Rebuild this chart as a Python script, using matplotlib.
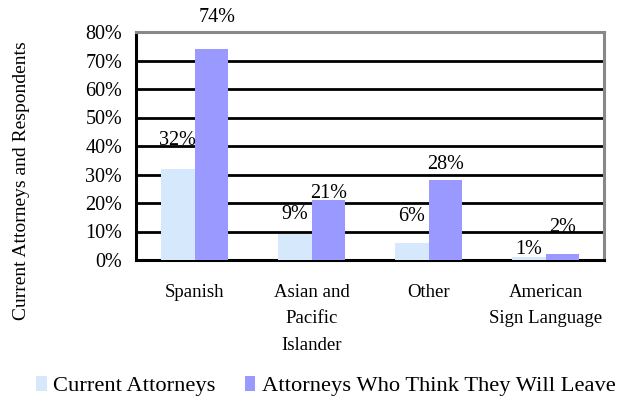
import matplotlib
matplotlib.use("Agg")
import matplotlib.pyplot as plt
import numpy as np

categories = ["Spanish", "Asian and\nPacific\nIslander", "Other", "American\nSign Language"]
current = [32, 9, 6, 1]
leave = [74, 21, 28, 2]
series_names = ["Current Attorneys", "Attorneys Who Think They Will Leave"]
yticks = [0, 10, 20, 30, 40, 50, 60, 70, 80]

plt.rcParams['font.family'] = ['Liberation Serif', 'DejaVu Serif']

fig = plt.figure(figsize=(6.2, 4.01), dpi=100)
ax = fig.add_axes([136/620, 1 - 260/401, 468/620, 228/401])

x = np.arange(len(categories))
w = 0.29
c1 = '#d6e8fc'
c2 = '#9999ff'
b1 = ax.bar(x - w/2, current, w, color=c1, zorder=3, label=series_names[0])
b2 = ax.bar(x + w/2, leave, w, color=c2, zorder=3, label=series_names[1])

ax.set_xlim(-0.5, len(categories) - 0.5)
ax.set_ylim(0, 80)
ax.set_yticks(yticks)
ax.set_yticklabels([f"{t}%" for t in yticks], fontsize=14.5)
ax.set_xticks(x)
ax.set_xticklabels(categories, fontsize=13.5, linespacing=1.75, va='top')
ax.tick_params(axis='both', length=0)
ax.tick_params(axis='x', pad=17)
ax.tick_params(axis='y', pad=10)

ax.yaxis.grid(True, color='black', linewidth=2, zorder=1)
ax.set_axisbelow(True)
for s in ['left', 'bottom']:
    ax.spines[s].set_color('black')
    ax.spines[s].set_linewidth(2.2)
for s in ['top', 'right']:
    ax.spines[s].set_color('#888888')
    ax.spines[s].set_linewidth(2.2)

off1 = [28, 20, 26, 8]
off2 = [32, 7, 16, 27]
for i in range(len(categories)):
    ax.annotate(f"{current[i]}%", (x[i] - w/2, current[i]), xytext=(0, off1[i] * 0.72),
                textcoords='offset points', ha='center', va='center', fontsize=14.5, zorder=5)
    dx = 6 if i == 0 else 0
    ax.annotate(f"{leave[i]}%", (x[i] + w/2, leave[i]), xytext=(dx * 0.72, off2[i] * 0.72),
                textcoords='offset points', ha='center', va='center', fontsize=14.5, zorder=5,
                annotation_clip=False)

fig.text(22/620, 1 - 181/401, "Current Attorneys and Respondents", rotation=90,
         ha='center', va='center', fontsize=14, family=['Liberation Serif'])

leg = fig.legend(handles=[b1, b2], loc='center', bbox_to_anchor=(0.526, 1 - 386/401),
                 ncol=2, frameon=False, fontsize=16.2, handlelength=0.45, handleheight=0.7,
                 handletextpad=0.3, columnspacing=1.3)

fig.savefig("out.png", dpi=100)
